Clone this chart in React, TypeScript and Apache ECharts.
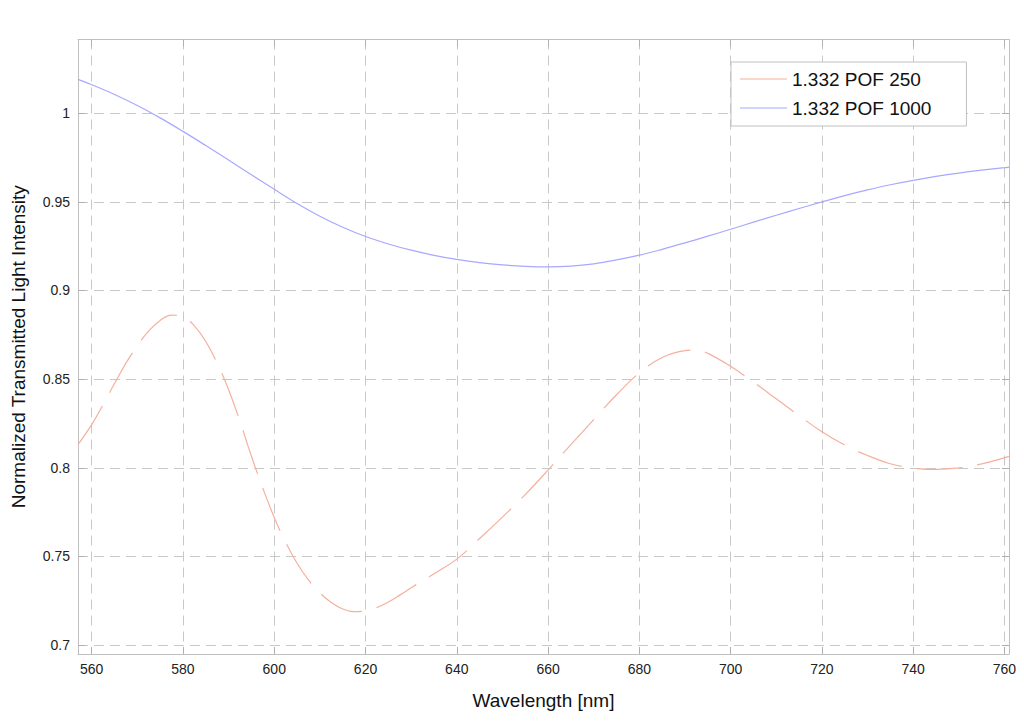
import React, { useEffect, useRef } from "react";
import * as echarts from "echarts";

const xTicks = [560, 580, 600, 620, 640, 660, 680, 700, 720, 740, 760];
const yTicks = [0.7, 0.75, 0.8, 0.85, 0.9, 0.95, 1];

const seriesNames = ["1.332 POF 250", "1.332 POF 1000"];

const redWavelength = [
  557, 560, 562.5, 565, 567.5, 570, 572.5, 575, 577.5, 580, 582.5, 585, 587.5, 590, 592.5, 595,
  597.5, 600, 602.5, 605, 607.5, 610, 612.5, 615, 617.5, 620, 622.5, 625, 627.5, 630, 632.5, 635,
  640, 645, 650, 655, 660, 665, 670, 675, 680, 685, 690, 692.5, 695, 700, 705, 710, 715, 720, 725,
  730, 735, 740, 745, 750, 755, 760, 761,
];
const redValues = [
  0.813, 0.8243, 0.8356, 0.8475, 0.859, 0.8688, 0.8772, 0.8831, 0.8861, 0.8853, 0.88, 0.8712,
  0.859, 0.844, 0.8262, 0.8065, 0.7885, 0.772, 0.758, 0.7462, 0.7368, 0.7295, 0.724, 0.7204,
  0.7189, 0.7194, 0.7212, 0.7243, 0.7282, 0.7323, 0.7363, 0.7402, 0.7485, 0.7601, 0.7722, 0.7849,
  0.7987, 0.8131, 0.8272, 0.8412, 0.8535, 0.8622, 0.8661, 0.8664, 0.8645, 0.8572, 0.8483, 0.8389,
  0.8294, 0.8203, 0.8128, 0.8069, 0.8023, 0.7998, 0.7991, 0.7999, 0.8022, 0.8056, 0.8064,
];

const blueWavelength = [
  557, 560, 565, 570, 575, 580, 585, 590, 595, 600, 605, 610, 615, 620, 625, 630, 635, 640, 645,
  650, 655, 660, 665, 670, 675, 680, 685, 690, 695, 700, 705, 710, 715, 720, 725, 730, 735, 740,
  745, 750, 755, 760, 761,
];
const blueValues = [
  1.019, 1.016, 1.0105, 1.0043, 0.9973, 0.9897, 0.9817, 0.9735, 0.9652, 0.957, 0.949, 0.9418,
  0.9356, 0.9304, 0.9262, 0.9227, 0.9198, 0.9175, 0.9157, 0.9144, 0.9136, 0.9133, 0.9137, 0.915,
  0.9172, 0.9199, 0.9232, 0.9268, 0.9306, 0.9345, 0.9385, 0.9424, 0.9462, 0.9499, 0.9535, 0.9567,
  0.9596, 0.9621, 0.9643, 0.9662, 0.9678, 0.9692, 0.9695,
];

const X_MIN = 557;
const X_MAX = 761;
const Y_MIN = 0.695;
const Y_MAX = 1.0415;

const FONT = "Liberation Sans, Arial, sans-serif";
const AXIS_COLOR = "#c0c0c0";
const GRID_COLOR = "#c8c8c8";
const RED = "#f4b09c";
const BLUE = "#a8a8ff";

export default function App() {
  const ref = useRef<HTMLDivElement>(null);

  useEffect(() => {
    if (!ref.current) return;
    const chart = echarts.init(ref.current, undefined, { renderer: "svg" });

    const gridLine = { show: true, lineStyle: { color: GRID_COLOR, type: [10, 6] as any, width: 1 } };
    const axisLine = { show: true, onZero: false, lineStyle: { color: AXIS_COLOR, width: 1 } };
    const tickIn = (vals: number[]) => ({
      show: true,
      inside: true,
      length: 7,
      customValues: vals,
      lineStyle: { color: "#b0b0b0" },
    });

    chart.setOption({
      animation: false,
      backgroundColor: "#ffffff",
      grid: { left: 78, right: 15, top: 39.5, bottom: 69, containLabel: false },
      legend: {
        orient: "vertical",
        left: 731,
        top: 62,
        padding: [6, 35, 7, 9],
        itemWidth: 47,
        itemHeight: 1.2,
        itemGap: 7,
        icon: "rect",
        borderColor: "#c0c0c0",
        borderWidth: 1,
        backgroundColor: "#ffffff",
        textStyle: { fontFamily: FONT, fontSize: 19, color: "#111111", lineHeight: 22 },
        data: seriesNames,
      },
      xAxis: [
        {
          type: "value",
          min: X_MIN,
          max: X_MAX,
          position: "bottom",
          name: "Wavelength [nm]",
          nameLocation: "middle",
          nameGap: 37,
          nameTextStyle: { fontFamily: FONT, fontSize: 19, color: "#111111" },
          axisLine,
          axisTick: tickIn(xTicks),
          axisLabel: {
            customValues: xTicks,
            margin: 8,
            fontFamily: FONT,
            fontSize: 14,
            color: "#222222",
          },
          splitLine: gridLine,
        },
        {
          type: "value",
          min: X_MIN,
          max: X_MAX,
          position: "top",
          axisLine,
          axisTick: tickIn(xTicks),
          axisLabel: { show: false, customValues: xTicks },
          splitLine: { show: false },
        },
      ],
      yAxis: [
        {
          type: "value",
          min: Y_MIN,
          max: Y_MAX,
          position: "left",
          name: "Normalized Transmitted Light Intensity",
          nameLocation: "middle",
          nameGap: 50,
          nameTextStyle: { fontFamily: FONT, fontSize: 19, color: "#111111" },
          axisLine,
          axisTick: tickIn(yTicks),
          axisLabel: {
            customValues: yTicks,
            margin: 8,
            fontFamily: FONT,
            fontSize: 14,
            color: "#222222",
            formatter: (v: number) => String(Number(v.toFixed(2))),
          },
          splitLine: gridLine,
        },
        {
          type: "value",
          min: Y_MIN,
          max: Y_MAX,
          position: "right",
          axisLine,
          axisTick: tickIn(yTicks),
          axisLabel: { show: false, customValues: yTicks },
          splitLine: { show: false },
        },
      ],
      series: [
        {
          name: seriesNames[0],
          type: "line",
          xAxisIndex: 0,
          yAxisIndex: 0,
          smooth: 0.4,
          symbol: "none",
          lineStyle: { color: RED, width: 1.2, type: [46, 15] as any },
          itemStyle: { color: RED },
          data: redWavelength.map((w, i) => [w, redValues[i]]),
        },
        {
          name: seriesNames[1],
          type: "line",
          xAxisIndex: 0,
          yAxisIndex: 0,
          smooth: 0.4,
          symbol: "none",
          lineStyle: { color: BLUE, width: 1.2, type: "solid" },
          itemStyle: { color: BLUE },
          data: blueWavelength.map((w, i) => [w, blueValues[i]]),
        },
      ],
    });

    return () => chart.dispose();
  }, []);

  return (
    <div
      ref={ref}
      style={{ position: "absolute", left: 0, top: 0, width: 1024, height: 723, background: "#fff" }}
    />
  );
}
